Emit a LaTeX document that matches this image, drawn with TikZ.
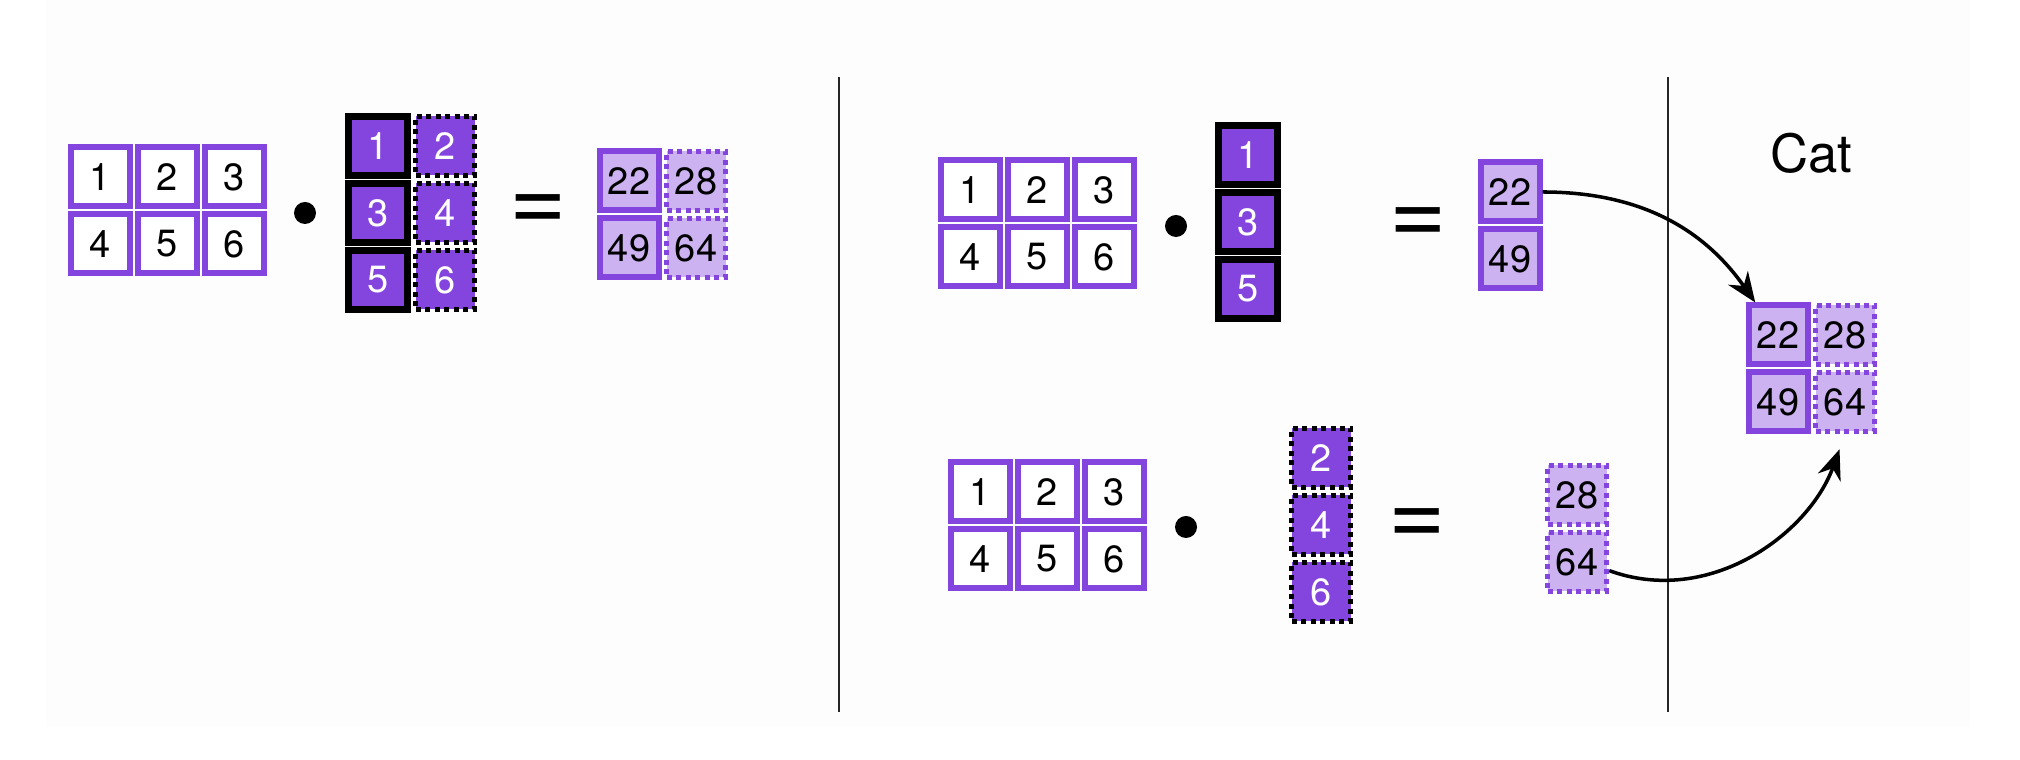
\documentclass[tikz,border=0pt]{standalone}
\usepackage{fontspec}
\setmainfont{TeX Gyre Heros}
\usetikzlibrary{arrows.meta}

\definecolor{vio}{HTML}{8444DE}
\definecolor{lilac}{HTML}{CDB2F2}
\definecolor{bgtint}{HTML}{FDFDFD}

\begin{document}
\begin{tikzpicture}
	\tikzset{cell/.style={draw=#1, rectangle, minimum size=5.9mm, inner sep=0pt, line width=0.6mm, font=\fontsize{10.8}{13}\selectfont},
		acell/.style={cell=vio, fill=white},
		bcell/.style={cell=black, line width=0.65mm, fill=vio, text=white},
		bdot/.style={bcell, line width=0.55mm, dash pattern=on 0.5mm off 0.45mm},
		ccell/.style={cell=vio, fill=lilac},
		cdot/.style={ccell, line width=0.55mm, dash pattern=on 0.5mm off 0.45mm},
		times/.style={circle, fill=black, inner sep=0pt, minimum size=2.2mm},
		equals/.style={font=\fontsize{28}{28}\selectfont, inner sep=0pt},
		arr/.style={-{Stealth[length=3mm, width=2.4mm]}, line width=1pt},
		node distance=6.7mm}
	
	\useasboundingbox (0,0) rectangle (20.2,7.6);
	\fill[bgtint] (0.46,0.33) rectangle (19.70,7.6);
	
	% Matrix A, once per product
	\foreach \p/\x/\y in {l/1.00/5.83, t/9.70/5.70, b/9.80/2.68}{
		\node[acell] (a\p1) at (\x,\y) {1};
		\foreach \n in {2,...,6}{
			\pgfmathsetmacro{\m}{int(\n-1)}
			\pgfmathsetmacro{\k}{int(\n-3)}
			\ifnum \n<4
				\node[acell, right of=a\p\m] (a\p\n) {\n};
			\else
				\node[acell, below of=a\p\k] (a\p\n) {\n};
			\fi
		}
	}
	
	% Dot products
	\node[times] (dl) at (3.05,5.47) {};
	\node[times] (dt) at (11.76,5.34) {};
	\node[times] (db) at (11.86,2.33) {};
	
	% Matrix B: left column solid, right column dotted
	\node[bcell] (bl1) at (3.78,6.14) {1};
	\node[bdot, right of=bl1] (bl2) {2};
	\foreach \n/\m in {3/1,5/3}{
		\node[bcell, below of=bl\m] (bl\n) {\n};
	}
	\foreach \n/\m in {4/2,6/4}{
		\node[bdot, below of=bl\m] (bl\n) {\n};
	}
	
	% Split columns of B
	\node[bcell] (bt1) at (12.48,6.05) {1};
	\foreach \n/\m in {3/1,5/3}{
		\node[bcell, below of=bt\m] (bt\n) {\n};
	}
	\node[bdot] (bb2) at (13.21,3.02) {2};
	\foreach \n/\m in {4/2,6/4}{
		\node[bdot, below of=bb\m] (bb\n) {\n};
	}
	
	% Equal signs
	\node[equals] (el) at (5.38,5.47) {=};
	\node[equals] (et) at (14.18,5.34) {=};
	\node[equals] (eb) at (14.17,2.33) {=};
	
	% Results
	\node[ccell] (cl1) at (6.29,5.79) {22};
	\node[cdot, right of=cl1] (cl2) {28};
	\node[ccell, below of=cl1] (cl3) {49};
	\node[cdot, below of=cl2] (cl4) {64};
	
	\node[ccell] (ct1) at (15.10,5.68) {22};
	\node[ccell, below of=ct1] (ct3) {49};
	\node[cdot] (cb2) at (15.77,2.65) {28};
	\node[cdot, below of=cb2] (cb4) {64};
	
	% Concatenated result
	\node[font=\fontsize{15}{17}\selectfont] (cat) at (18.11,6.07) {Cat};
	\node[ccell] (cc1) at (17.78,4.25) {22};
	\node[cdot, right of=cc1] (cc2) {28};
	\node[ccell, below of=cc1] (cc3) {49};
	\node[cdot, below of=cc2] (cc4) {64};
	
	% Separators
	\draw[line width=0.6pt, black!85] (8.39,0.48) -- (8.39,6.83);
	\draw[line width=0.6pt, black!85] (16.68,0.48) -- (16.68,6.83);
	
	\draw[arr] (ct1.east) to[out=0, in=125] (cc1.125);
	\draw[arr, shorten >=1.6mm] (cb4.-15) to[out=-20, in=-110] (cc4.south);
\end{tikzpicture}
\end{document}
